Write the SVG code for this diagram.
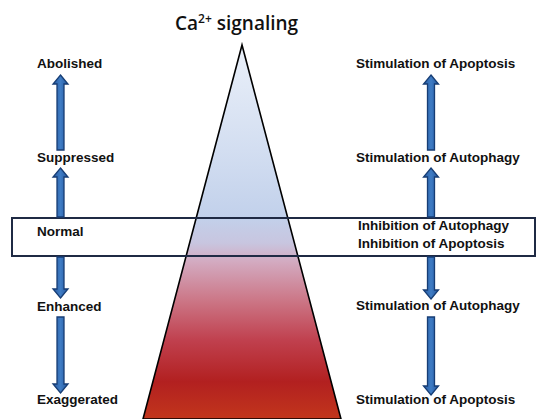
<svg xmlns="http://www.w3.org/2000/svg" width="536" height="419" viewBox="0 0 536 419">
<defs>
<linearGradient id="tri" x1="0" y1="45" x2="0" y2="419" gradientUnits="userSpaceOnUse">
<stop offset="0" stop-color="#eaf0f9"/>
<stop offset="0.28" stop-color="#d3def1"/>
<stop offset="0.46" stop-color="#c2d1eb"/>
<stop offset="0.53" stop-color="#c8c5df"/>
<stop offset="0.58" stop-color="#d3aac0"/>
<stop offset="0.68" stop-color="#cc7888"/>
<stop offset="0.79" stop-color="#c0404e"/>
<stop offset="0.9" stop-color="#b22020"/>
<stop offset="1" stop-color="#c2361c"/>
</linearGradient>
<linearGradient id="arr" x1="0" y1="0" x2="1" y2="0">
<stop offset="0" stop-color="#2458a0"/>
<stop offset="0.5" stop-color="#3f7cc4"/>
<stop offset="1" stop-color="#2458a0"/>
</linearGradient>
</defs>
<style>
.lbl{font-family:"Liberation Sans",Arial,sans-serif;font-weight:bold;font-size:13.5px;fill:#111}
.ttl{font-family:"Open Sans","Liberation Sans",sans-serif;font-weight:600;font-size:19px;fill:#111}
.ar{fill:url(#arr);stroke:#173d74;stroke-width:1.3;stroke-linejoin:miter}
</style>
<g id="triangle">
<polygon points="242,45 143,419 341,419" fill="url(#tri)" stroke="#000" stroke-width="1.6" stroke-linejoin="miter"/>
</g>
<g id="normal-band">
<rect x="12" y="218" width="523" height="38" fill="none" stroke="#1f2a44" stroke-width="2"/>
</g>
<g id="title">
<text class="ttl" x="175" y="30">Ca<tspan font-size="12" dy="-7">2+</tspan><tspan dy="7"> signaling</tspan></text>
</g>
<g id="connectors">
<path class="ar" d="M60.5,75 L68,84 L64,84 L64,150 L57,150 L57,84 L53,84 Z"/>
<path class="ar" d="M60.5,168 L68,177 L64,177 L64,217 L57,217 L57,177 L53,177 Z"/>
<path class="ar" d="M60.5,298 L68,289 L64,289 L64,257 L57,257 L57,289 L53,289 Z"/>
<path class="ar" d="M60.5,393 L68,384 L64,384 L64,317 L57,317 L57,384 L53,384 Z"/>
<path class="ar" d="M431,75 L438.5,84 L434.5,84 L434.5,150 L427.5,150 L427.5,84 L423.5,84 Z"/>
<path class="ar" d="M431,168 L438.5,177 L434.5,177 L434.5,217 L427.5,217 L427.5,177 L423.5,177 Z"/>
<path class="ar" d="M431,299 L438.5,290 L434.5,290 L434.5,257 L427.5,257 L427.5,290 L423.5,290 Z"/>
<path class="ar" d="M431,395 L438.5,386 L434.5,386 L434.5,317 L427.5,317 L427.5,386 L423.5,386 Z"/>
</g>
<g id="left-labels">
<text class="lbl" x="37" y="68">Abolished</text>
<text class="lbl" x="37" y="162">Suppressed</text>
<text class="lbl" x="37" y="236">Normal</text>
<text class="lbl" x="37" y="311">Enhanced</text>
<text class="lbl" x="37" y="404">Exaggerated</text>
</g>
<g id="right-labels">
<text class="lbl" x="356" y="68">Stimulation of Apoptosis</text>
<text class="lbl" x="356" y="162">Stimulation of Autophagy</text>
<text class="lbl" x="358" y="230">Inhibition of Autophagy</text>
<text class="lbl" x="358" y="248">Inhibition of Apoptosis</text>
<text class="lbl" x="356" y="310">Stimulation of Autophagy</text>
<text class="lbl" x="356" y="404">Stimulation of Apoptosis</text>
</g>
</svg>
